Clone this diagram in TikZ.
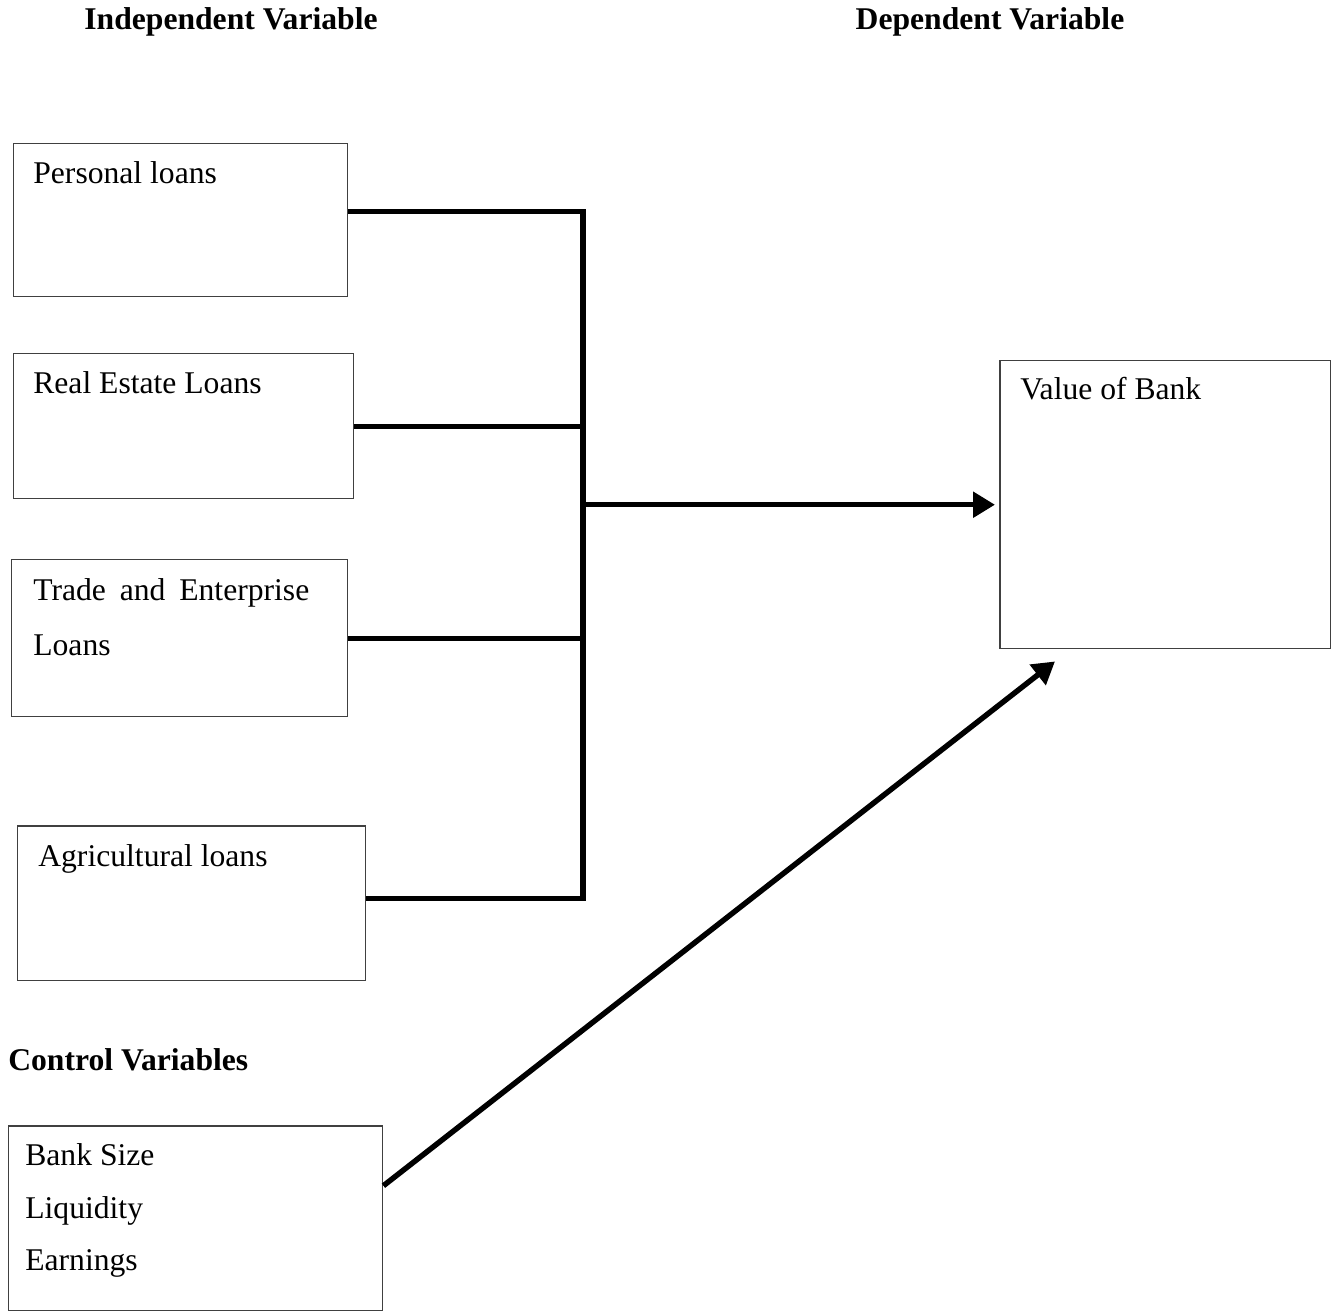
\documentclass[tikz,border=0pt]{standalone}
\usepackage{fontspec}
\setmainfont{Liberation Serif}
\usetikzlibrary{arrows.meta, positioning, calc}

\begin{document}
\begin{tikzpicture}[
  x=0.02cm, y=-0.02cm,
  font=\fontsize{18pt}{31pt}\selectfont,
  varbox/.style={draw=black!75, line width=0.85pt, inner sep=0pt, anchor=north west},
  boxtext/.style={anchor=base west, inner sep=0pt, align=left},
  titolo/.style={font=\fontsize{18pt}{22pt}\selectfont\bfseries, inner sep=0pt},
  bus/.style={draw=black, line width=3.1pt},
  link/.style={draw=black, line width=3.1pt, -{Triangle[length=0.44cm, width=0.5cm]}}
]
\useasboundingbox (0,0) rectangle (1336,1315);

% ---- titoli -----------------------------------------------------------
\node[titolo] (indtit) at (231,22) {Independent Variable};
\node[titolo] (deptit) at (990,22) {Dependent Variable};
\node[titolo, anchor=west] (ctrltit) at (8,1060) {Control Variables};

% ---- variabili indipendenti ------------------------------------------
\node[varbox, minimum width=6.68cm, minimum height=3.06cm] (pl) at (13,143) {};
\node[varbox, minimum width=6.80cm, minimum height=2.90cm] (re) at (13,353) {};
\node[varbox, minimum width=6.72cm, minimum height=3.14cm] (te) at (11,559) {};
\node[varbox, minimum width=6.96cm, minimum height=3.10cm] (ag) at (17,825) {};

\node[boxtext] (pltxt) at ([shift={(0.4cm,-0.82cm)}]pl.north west) {Personal loans};
\node[boxtext] (retxt) at ([shift={(0.4cm,-0.82cm)}]re.north west) {Real Estate Loans};
% base = ultima riga
\node[boxtext] (tetxt) at ([shift={(0.44cm,-1.94cm)}]te.north west)
  {\makebox[5.52cm][s]{Trade and Enterprise}\\[0.75pt] Loans};
\node[boxtext] (agtxt) at ([shift={(0.42cm,-0.82cm)}]ag.north west) {Agricultural loans};

% ---- variabile dipendente ---------------------------------------------
\node[varbox, minimum width=6.62cm, minimum height=5.76cm] (vb) at (999,360) {};
\node[boxtext] (vbtxt) at ([shift={(0.42cm,-0.8cm)}]vb.north west) {Value of Bank};

% ---- variabili di controllo --------------------------------------------
\node[varbox, minimum width=7.48cm, minimum height=3.70cm] (cv) at (8,1125) {};
\node[boxtext] (cvtxt) at ([shift={(0.34cm,-2.92cm)}]cv.north west)
  {Bank Size\\[-1pt] Liquidity\\[-1pt] Earnings};

% ---- collegamenti -------------------------------------------------------
\coordinate (bus) at (583,0);
\draw[bus] ([yshift=0.17cm]pl.east) -| ([yshift=0.09cm]ag.east -| bus) -- ([yshift=0.09cm]ag.east);
\draw[bus] (re.east) -- (re.east -| bus);
\draw[bus] (te.east) -- (te.east -| bus);
\draw[link, shorten >=0.08cm] (bus |- vb.west) -- (vb.west);
\draw[link] ([yshift=0.65cm]cv.east) -- ([shift={(1.12cm,-0.24cm)}]vb.south west);

\end{tikzpicture}
\end{document}
